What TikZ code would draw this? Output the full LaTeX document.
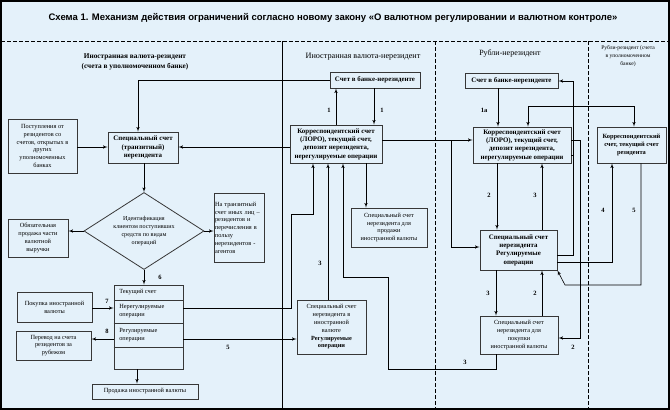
\documentclass[tikz,border=0pt]{standalone}
\usepackage{fontspec}
\setmainfont{Liberation Serif}
\setsansfont{Liberation Sans}
\usepackage{xcolor}
\usetikzlibrary{positioning}
\usetikzlibrary{arrows}
\usetikzlibrary{shapes.geometric}
\definecolor{bgblue}{RGB}{228,241,250}
\definecolor{boxgray}{RGB}{55,55,55}

\begin{document}
\begin{tikzpicture}[x=1pt,y=-1pt,>=latex',line width=0.6pt,
    box node/.style={draw=boxgray,line width=0.8pt,align=center,inner sep=1pt,
      font=\fontsize{6.3}{7.8}\selectfont},
    bold node/.style={box node,font=\bfseries\fontsize{6.9}{8.4}\selectfont},
    row node/.style={anchor=west,align=left,inner sep=0pt,font=\fontsize{6.3}{7.8}\selectfont},
    head node/.style={align=center,inner sep=0pt},
    num node/.style={inner sep=0pt,font=\bfseries\fontsize{6.5}{7}\selectfont},
    sep line/.style={dash pattern=on 4pt off 2pt}]
      \useasboundingbox (0,0) rectangle (670,410);
      \fill[bgblue] (0,0) rectangle (670,410);
      \draw[line width=2pt] (1,1) rectangle (669,409);

      \node[head node,font=\sffamily\bfseries\fontsize{9.5}{11}\selectfont] (t) at (333,18)
        {Схема 1. Механизм действия ограничений согласно новому закону «О валютном регулировании и валютном контроле»};
      \draw[sep line] (1,41) -- (669,41);
      \draw (282,41) -- (282,409);
      \draw[sep line] (435,41) -- (435,409);
      \draw[sep line] (588,41) -- (588,409);

      \node[head node,font=\bfseries\fontsize{7.3}{10}\selectfont] (h1) at (135,62)
        {Иностранная валюта-резидент\\(счета в уполномоченном банке)};
      \node[head node,font=\fontsize{8.2}{9}\selectfont] (h2) at (363,57) {Иностранная валюта-нерезидент};
      \node[head node,font=\fontsize{8}{9}\selectfont] (h3) at (510,53) {Рубли-нерезидент};
      \node[head node,font=\fontsize{5.6}{8}\selectfont] (h4) at (628,56)
        {Рубли-резидент (счета\\в уполномоченном\\банке)};

      \node[bold node,minimum width=90pt,minimum height=16pt] (1) at (375,80) {Счет в банке-нерезиденте};
      \node[bold node,minimum width=92pt,minimum height=38pt] (2) at (336,144)
        {Корреспондентский счет\\(ЛОРО), текущий счет,\\депозит нерезидента,\\нерегулируемые операции};
      \node[bold node,minimum width=70pt,minimum height=31pt] (3) at (143,147.5)
        {Специальный счет\\(транзитный)\\нерезидента};
      \node[box node,minimum width=69pt,minimum height=54pt] (4) at (42.5,146)
        {Поступления от\\резидентов со\\счетов, открытых в\\других\\уполномоченных\\банках};
      \node[diamond,draw=boxgray,line width=0.8pt,aspect=1.56,minimum width=120pt,minimum height=77pt,
        inner sep=0pt,align=center,font=\fontsize{6.1}{7.7}\selectfont] (5) at (144,231)
        {Идентификация\\клиентом поступивших\\средств по видам\\операций};
      \node[box node,minimum width=60pt,minimum height=38pt] (6) at (38,238)
        {Обязательная\\продажа части\\валютной\\выручки};
      \node[box node,align=left,text width=48pt,minimum height=69pt] (7) at (239,227.5)
        {На транзитный\\счет иных лиц –\\резидентов и\\перечисления в\\пользу\\нерезидентов -\\агентов};
      \node[box node,minimum width=69pt,minimum height=84pt] (8) at (148.5,327) {};
      \node[box node,minimum width=75pt,minimum height=30pt] (9) at (54.5,307) {Покупка иностранной\\валюты};
      \node[box node,minimum width=75pt,minimum height=29pt] (10) at (53.5,345.5)
        {Перевод на счета\\резидентов за\\рубежом};
      \node[box node,minimum width=106pt,minimum height=15pt] (11) at (145,391.5) {Продажа иностранной валюты};
      \node[box node,minimum width=76pt,minimum height=39pt] (12) at (389,227.5)
        {Специальный счет\\нерезидента для\\продажи\\иностранной валюты};
      \node[box node,minimum width=69pt,minimum height=54pt] (13) at (331.5,327)
        {Специальный счет\\нерезидента в\\иностранной\\валюте\\\textbf{Регулируемые}\\\textbf{операции}};
      \node[bold node,minimum width=93pt,minimum height=15pt] (14) at (511.5,80.5) {Счет в банке-нерезиденте};
      \node[bold node,minimum width=98pt,minimum height=36pt] (15) at (522,145)
        {Корреспондентский счет\\(ЛОРО), текущий счет,\\депозит нерезидента,\\нерегулируемые операции};
      \node[bold node,minimum width=77pt,minimum height=40pt] (16) at (518.5,250)
        {Специальный счет\\нерезидента\\Регулируемые\\операции};
      \node[box node,minimum width=78pt,minimum height=38pt] (17) at (519,335)
        {Специальный счет\\нерезидента для\\покупки\\иностранной валюты};
      \node[bold node,font=\bfseries\fontsize{6.4}{8.4}\selectfont,minimum width=69pt,minimum height=36pt] (18) at (631.5,145)
        {Корреспондентский\\счет, текущий счет\\резидента};

      \draw[draw=boxgray,line width=0.8pt] (8.west |- 0,300) -- (8.east |- 0,300)
        (8.west |- 0,323) -- (8.east |- 0,323) (8.west |- 0,347) -- (8.east |- 0,347);
      \node[row node] (r1) at (119,292.5) {Текущий счет};
      \node[row node] (r2) at (119,311.5) {Нерегулируемые\\операции};
      \node[row node] (r3) at (119,335) {Регулируемые\\операции};

      \draw[->] (1.west) -| (3.north -| 138,0);
      \draw[->] (2.west |- 0,147) -- (3.east |- 0,147);
      \draw[->] (4.east |- 0,147) -- (3.west |- 0,147);
      \draw[->] (3.south -| 5.north) -- (5.north);
      \draw[->] (5.west) -- (6.east |- 5.west);
      \draw[->] (5.east) -- (7.west |- 5.east);
      \draw[->] (5.south) -- (8.north -| 5.south);
      \draw[->] (8.south -| 137,0) -- (11.north -| 137,0);
      \draw[->] (9.east |- 0,308) -- (8.west |- 0,308);
      \draw[->] (8.west |- 0,339) -- (10.east |- 0,339);
      \draw[->] (8.east |- 0,339) -- (13.west |- 0,339);
      \draw[->] (8.east |- 0,308) -- (291,308) -- (291,214) -- (313,214) -- (2.south -| 313,0);
      \draw[->] (13.north -| 328,0) -- (2.south -| 328,0);
      \draw[->] (17.south -| 496,0) -- (496,369) -- (388,369) -- (388,277) -- (343,277) -- (2.south -| 343,0);
      \draw[->] (2.south -| 366,0) -- (12.north -| 366,0);
      \draw[->] (2.north -| 336,0) -- (1.south -| 336,0);
      \draw[->] (1.south -| 374,0) -- (2.north -| 374,0);
      \draw[->] (2.east |- 0,140) -- (15.west |- 0,140);
      \coordinate (br) at (451,140);
      \draw[->] (br) -- (451,247) -- (16.west |- 0,247);

      \draw[->] (14.south -| 498,0) -- (15.north -| 498,0);
      \draw[<->] (15.north -| 528,0) -- (528,106) -- (634,106) -- (18.north -| 634,0);
      \draw[->] (15.east |- 0,140) -- (580,140) -- (580,338) -- (17.east |- 0,338);
      \draw[->] (16.east |- 0,255) -- (573,255) -- (573,81) -- (14.east |- 0,81);
      \draw (15.east |- 0,155) -- (573,155);
      \draw[->] (16.east |- 0,262) -- (612,262) -- (18.south -| 612,0);
      \draw[->] (18.south -| 641,0) -- (641,285) -- (565,285) -- (16.south east);
      \draw[->] (15.south -| 497,0) -- (16.north -| 497,0);
      \draw[->] (16.north -| 542,0) -- (15.south -| 542,0);
      \draw[->] (16.south -| 496,0) -- (17.north -| 496,0);
      \draw[->] (17.north -| 542,0) -- (16.south -| 542,0);

      \node[num node] (n1) at (329,110) {1};
      \node[num node] (n2) at (382,110) {1};
      \node[num node] (n3) at (160,277) {6};
      \node[num node] (n4) at (107,301) {7};
      \node[num node] (n5) at (107,331) {8};
      \node[num node] (n6) at (228,347) {5};
      \node[num node] (n7) at (320,263) {3};
      \node[num node] (n8) at (465,362) {3};
      \node[num node] (n9) at (484,110) {1а};
      \node[num node] (n10) at (489,195) {2};
      \node[num node] (n11) at (535,195) {3};
      \node[num node] (n12) at (488,293) {3};
      \node[num node] (n13) at (535,293) {2};
      \node[num node] (n14) at (573,347) {2};
      \node[num node] (n15) at (603,210) {4};
      \node[num node] (n16) at (634,210) {5};
\end{tikzpicture}
\end{document}
